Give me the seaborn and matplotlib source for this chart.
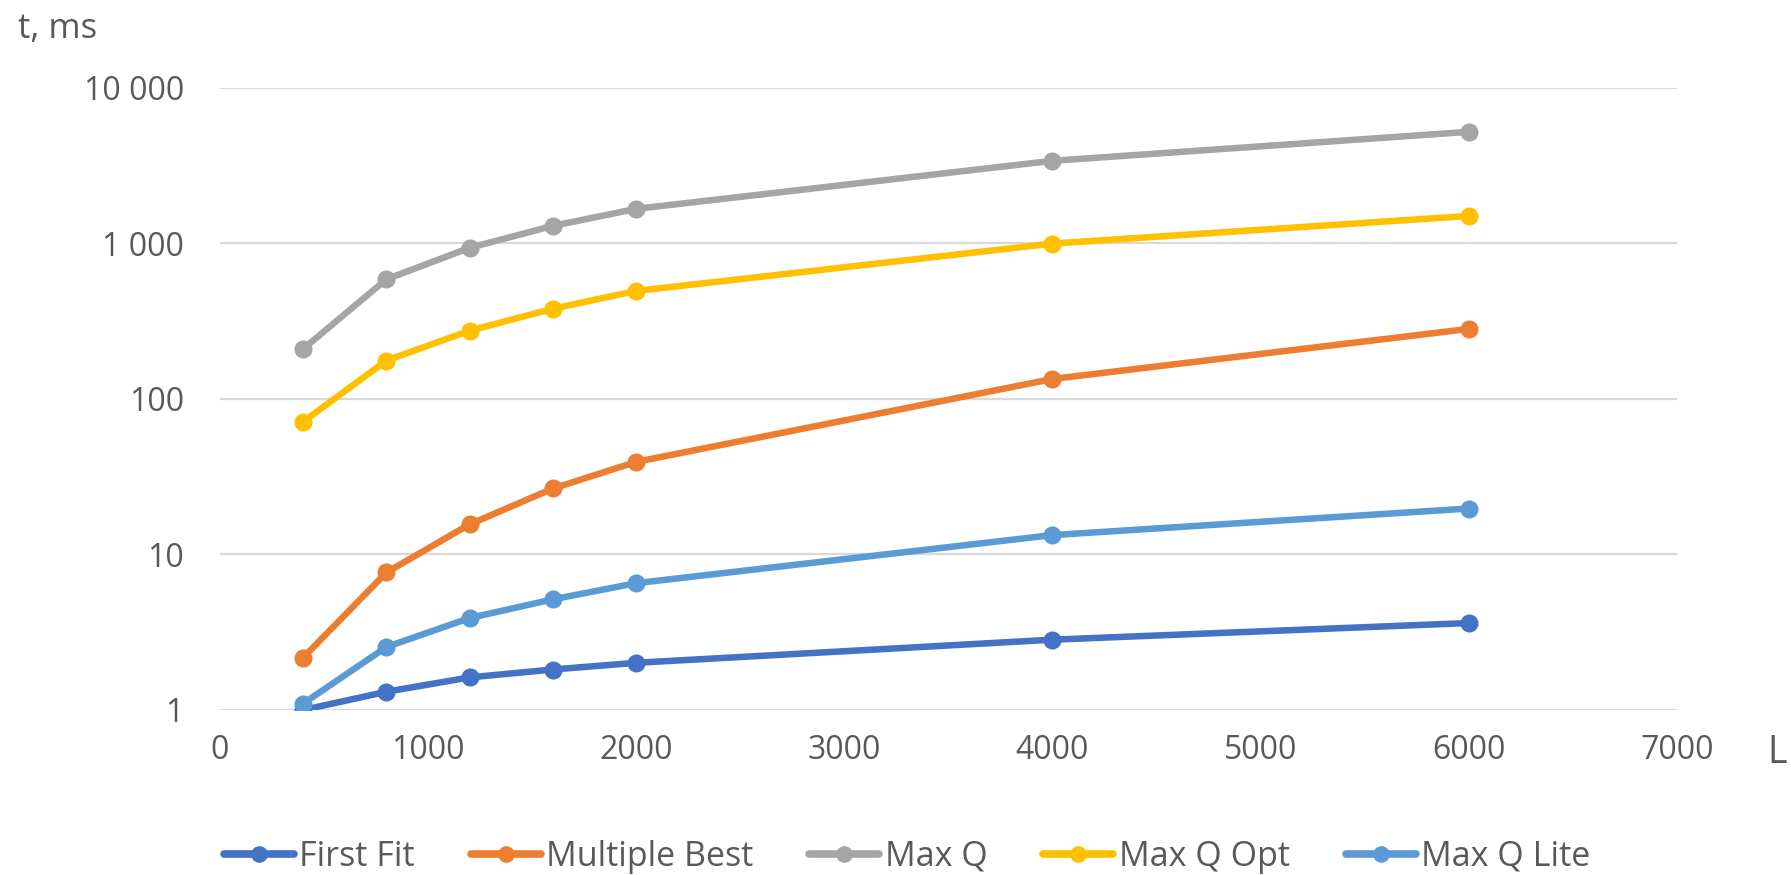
import matplotlib
matplotlib.use("Agg")
import matplotlib.pyplot as plt
import seaborn as sns
import pandas as pd
from matplotlib.ticker import FixedLocator, NullLocator
from matplotlib.lines import Line2D

# Problem size L and measured running time t (ms) per algorithm
L_values = [400, 800, 1200, 1600, 2000, 4000, 6000]
first_fit = [1.0, 1.31, 1.62, 1.82, 2.01, 2.83, 3.62]
multiple_best = [2.17, 7.65, 15.6, 26.5, 39.3, 134, 281]
max_q = [209, 586, 933, 1291, 1660, 3380, 5190]
max_q_opt = [71.2, 176, 274, 379, 493, 993, 1495]
max_q_lite = [1.10, 2.54, 3.90, 5.14, 6.53, 13.3, 19.7]

series_names = ["First Fit", "Multiple Best", "Max Q", "Max Q Opt", "Max Q Lite"]
series_colors = ["#4472C4", "#ED7D31", "#A5A5A5", "#FFC000", "#5B9BD5"]
y_ticks = [1, 10, 100, 1000, 10000]
y_tick_labels = ["1", "10", "100", "1 000", "10 000"]
x_ticks = [0, 1000, 2000, 3000, 4000, 5000, 6000, 7000]

frames = []
for name, vals in zip(series_names,
                      [first_fit, multiple_best, max_q, max_q_opt, max_q_lite]):
    frames.append(pd.DataFrame({"L": L_values, "t": vals, "algo": name}))
df = pd.concat(frames, ignore_index=True)

sns.set_theme(style="white")
plt.rcParams["font.family"] = ["Open Sans", "DejaVu Sans"]
text_color = "#595959"

fig = plt.figure(figsize=(17.91, 8.75), dpi=100)
ax = fig.add_axes([0.1228, 0.1886, 0.8135, 0.7114])

sns.lineplot(data=df, x="L", y="t", hue="algo", hue_order=series_names,
             palette=series_colors, marker="o", markersize=13,
             markeredgewidth=0, linewidth=4.7, ax=ax, legend=False)

ax.set_yscale("log")
ax.set_ylim(1, 10000)
ax.set_xlim(0, 7000)
ax.yaxis.set_major_locator(FixedLocator(y_ticks))
ax.yaxis.set_minor_locator(NullLocator())
ax.set_yticklabels(y_tick_labels)
ax.set_xticks(x_ticks)
ax.set_xticklabels([str(v) for v in x_ticks])

ax.grid(axis="y", color="#D9D9D9", linewidth=1.6)
ax.grid(axis="x", visible=False)
ax.set_axisbelow(True)
for s in ax.spines.values():
    s.set_visible(False)
ax.tick_params(axis="both", length=0, labelsize=23, colors=text_color)
ax.tick_params(axis="y", pad=26)
ax.tick_params(axis="x", pad=17)
ax.set_xlabel("")
ax.set_ylabel("")

fig.text(0.010, 0.9566, "t, ms", fontsize=25, color=text_color,
         ha="left", va="baseline")
fig.text(0.987, 0.128, "L", fontsize=27, color=text_color,
         ha="left", va="baseline")

handles = [Line2D([], [], color=c, linewidth=5.5, marker="o", markersize=12,
                  markeredgewidth=0) for c in series_colors]
fig.legend(handles, series_names, loc="center", bbox_to_anchor=(0.5064, 0.0206),
           ncol=5, frameon=False, fontsize=24.5, labelcolor=text_color,
           handlelength=2.06, handletextpad=0.15, columnspacing=1.65,
           borderpad=0)

fig.savefig("out.png", dpi=100)
